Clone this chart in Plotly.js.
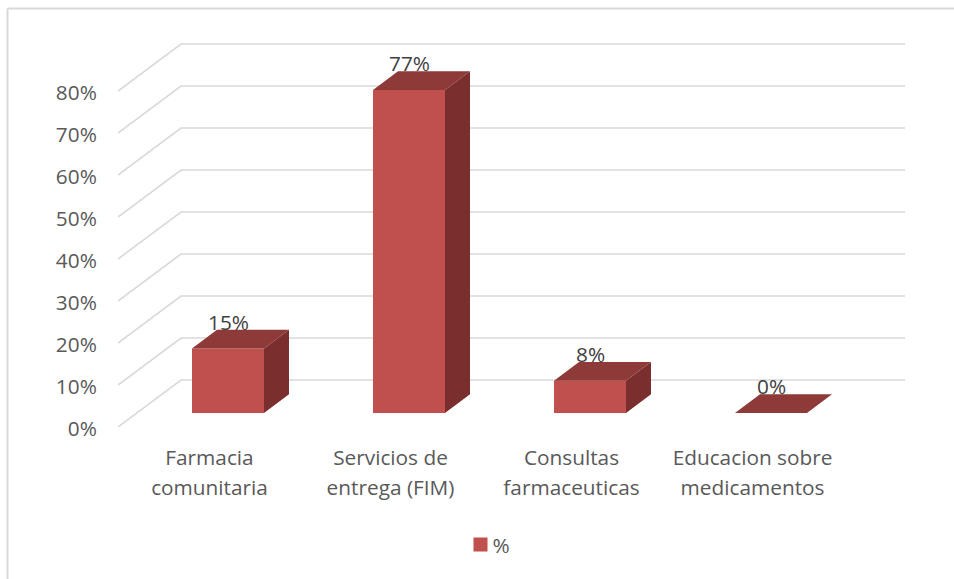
<!DOCTYPE html>
<html>
<head>
<meta charset="utf-8">
<script src="https://cdn.plot.ly/plotly-3.0.1.min.js"></script>
<style>html,body{margin:0;padding:0;background:#fff}#chart{width:954px;height:579px}</style>
</head>
<body>
<div id="chart"></div>
<script>
// Data
const seriesName = '%';
const categoriesLine1 = ['Farmacia', 'Servicios de', 'Consultas', 'Educacion sobre'];
const categoriesLine2 = ['comunitaria', 'entrega (FIM)', 'farmaceuticas', 'medicamentos'];
const values = [15.38, 76.92, 7.69, 0];
const yTicks = [0, 10, 20, 30, 40, 50, 60, 70, 80];

// Oblique projection: depth (0 = front, 1 = back wall) in axis units
const pxPerCat = 181, pxPerPct = 4.2;
const depthX = 63 / pxPerCat, depthY = 47 / pxPerPct;
const barFrontDepth = 0.298, barBackDepth = 0.695;
const barWidth = 72 / pxPerCat;
const catPos = values.map((_, i) => i);
const xMin = -0.5, xMax = xMin + 787 / pxPerCat, yMax = 387 / pxPerPct;

const grid = { x: [], y: [] };
yTicks.forEach(v => {
  grid.x.push(xMin, xMin + depthX, categoriesLine1.length - 0.5 + depthX, null);
  grid.y.push(v, v + depthY, v + depthY, null);
});

const base = barFrontDepth * depthY;
const centre = catPos.map(c => c + barFrontDepth * depthX + 0.004);
const dx = (barBackDepth - barFrontDepth) * depthX;
const dy = (barBackDepth - barFrontDepth) * depthY;

const topFace = { x: [], y: [] }, sideFace = { x: [], y: [] };
values.forEach((v, i) => {
  const l = centre[i] - barWidth / 2, r = centre[i] + barWidth / 2, t = base + v;
  topFace.x.push(l, r, r + dx, l + dx, l, null);
  topFace.y.push(t, t, t + dy, t + dy, t, null);
  if (v > 0) {
    sideFace.x.push(r, r, r + dx, r + dx, r, null);
    sideFace.y.push(base, t, t + dy, base + dy, base, null);
  }
});

const traces = [
  { type: 'scatter', mode: 'lines', x: grid.x, y: grid.y, xaxis: 'x', yaxis: 'y',
    line: { color: '#d9d9d9', width: 1.6 }, showlegend: false, hoverinfo: 'skip' },
  { type: 'bar', x: centre, y: values, base: base, width: barWidth, name: seriesName,
    xaxis: 'x2', yaxis: 'y', marker: { color: '#C0504D' } },
  { type: 'scatter', mode: 'lines', x: sideFace.x, y: sideFace.y, xaxis: 'x2', yaxis: 'y',
    fill: 'toself', fillcolor: '#7A2E2D', line: { width: 0, color: '#7A2E2D' }, showlegend: false, hoverinfo: 'skip' },
  { type: 'scatter', mode: 'lines', x: topFace.x, y: topFace.y, xaxis: 'x2', yaxis: 'y',
    fill: 'toself', fillcolor: '#8E3A38', line: { width: 0, color: '#8E3A38' }, showlegend: false, hoverinfo: 'skip' },
  { type: 'scatter', mode: 'text', x: centre.map(c => c + 0.003), y: values.map(v => v + base + 24 / pxPerPct),
    text: values.map(v => Math.round(v) + '%'), textposition: 'middle center', xaxis: 'x2', yaxis: 'y',
    textfont: { family: 'Open Sans', size: 20.8, color: '#404040' }, showlegend: false, hoverinfo: 'skip' }
];

const tickFont = { family: 'Open Sans', size: 20.8, color: '#595959' };
const clear = 'rgba(0,0,0,0)';
const axisCommon = {
  range: [xMin, xMax], tickmode: 'array', tickvals: catPos, showgrid: false, zeroline: false,
  showline: false, ticks: 'outside', tickcolor: clear, tickangle: 0, tickfont: tickFont, fixedrange: true,
  ticklabelshift: 1
};

const layout = {
  width: 954, height: 579, paper_bgcolor: '#fff', plot_bgcolor: '#fff',
  margin: { l: 118, r: 49, t: 40, b: 152, pad: 0, autoexpand: false },
  showlegend: true,
  legend: { x: (492 - 118) / 787, y: -(545 - 427) / 387, xanchor: 'center', yanchor: 'middle',
            font: tickFont, bgcolor: clear },
  xaxis: Object.assign({}, axisCommon, { ticktext: categoriesLine1, ticklen: 12, anchor: 'y' }),
  xaxis2: Object.assign({}, axisCommon, { ticktext: categoriesLine2, ticklen: 42, overlaying: 'x', side: 'bottom', anchor: 'y' }),
  yaxis: { range: [0, yMax], tickmode: 'array', tickvals: yTicks, ticktext: yTicks.map(v => v + '%'),
           showgrid: false, zeroline: false, showline: false, ticks: 'outside', ticklen: 16, tickcolor: clear,
           tickfont: tickFont, fixedrange: true, ticklabelshift: 2 },
  shapes: [
    { type: 'line', xref: 'paper', yref: 'paper', x0: (7.5 - 118) / 787, x1: (7.5 - 118) / 787,
      y0: -152 / 387, y1: (427 - 8.5) / 387, line: { color: '#d9d9d9', width: 2 } },
    { type: 'line', xref: 'paper', yref: 'paper', x0: (7.5 - 118) / 787, x1: (954 - 118) / 787,
      y0: (427 - 8.5) / 387, y1: (427 - 8.5) / 387, line: { color: '#d9d9d9', width: 2 } }
  ]
};

Plotly.newPlot('chart', traces, layout, { displayModeBar: false, staticPlot: true }).then(() => {
  // Excel-style legend: slightly larger swatch, text closer to it
  document.querySelectorAll('.legendpoints path').forEach(p => p.setAttribute('d', 'M7,7H-7V-7H7Z'));
  document.querySelectorAll('.legendtext').forEach(t => {
    t.setAttribute('x', parseFloat(t.getAttribute('x')) - 8);
  });
});
</script>
</body>
</html>
